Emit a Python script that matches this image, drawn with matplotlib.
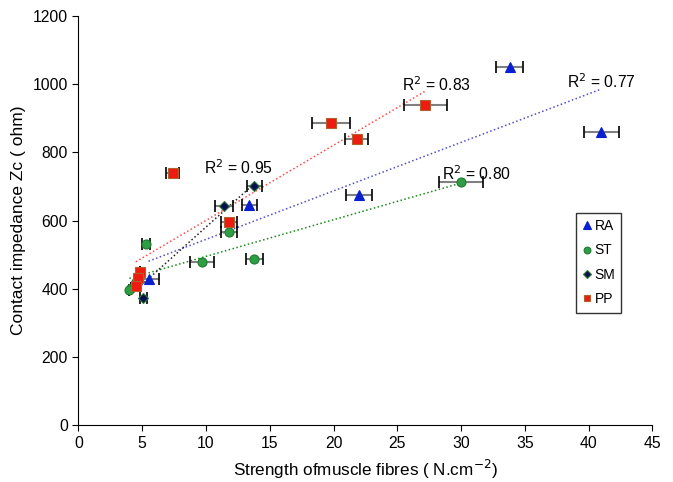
import numpy as np
import matplotlib
matplotlib.use("Agg")
import matplotlib.pyplot as plt

plt.rcParams["font.family"] = ["Liberation Sans", "DejaVu Sans"]

# strength (N.cm-2), error in strength, contact impedance Zc (ohm)
ra_x = [33.8, 41.0, 22.0, 13.4, 5.5]
ra_xerr = [1.05, 1.4, 1.0, 0.6, 0.85]
ra_y = [1050, 860, 675, 645, 428]

st_x = [30.0, 13.8, 11.8, 9.7, 5.3, 4.5, 4.1, 4.0]
st_xerr = [1.7, 0.7, 0.6, 0.95, 0.3, 0.0, 0.0, 0.0]
st_y = [712, 487, 565, 478, 532, 420, 403, 396]

sm_x = [13.8, 11.4, 5.1, 4.7]
sm_xerr = [0.6, 0.7, 0.3, 0.0]
sm_y = [700, 642, 373, 440]

pp_x = [27.2, 21.8, 19.8, 7.4, 11.8, 4.8, 4.7, 4.5]
pp_xerr = [1.7, 0.9, 1.5, 0.5, 0.6, 0.0, 0.0, 0.0]
pp_y = [940, 838, 886, 740, 595, 448, 432, 408]

r2_labels = ["R$^2$ = 0.77", "R$^2$ = 0.80", "R$^2$ = 0.95", "R$^2$ = 0.83"]
r2_pos = [(38.3, 1006), (28.5, 738), (9.85, 754), (25.4, 998)]

series = [
    ("RA", ra_x, ra_xerr, ra_y, "^", "#0a1fd0", "#0a1fd0", 7.5, "#5050c8"),
    ("ST", st_x, st_xerr, st_y, "o", "#2e9e45", "#1f7a30", 6.5, "#1a8a1a"),
    ("SM", sm_x, sm_xerr, sm_y, "D", "#06104f", "#2a7a3a", 5, "#222222"),
    ("PP", pp_x, pp_xerr, pp_y, "s", "#ee1c10", "#b06030", 6.5, "#ff4a4a"),
]

fig = plt.figure(figsize=(6.73, 4.82), dpi=100)
ax = fig.add_axes([0.1165, 0.118, 0.853, 0.849])

# trend lines first (under the markers)
for name, xs, xe, ys, mk, fc, ec, ms, lc in series:
    xs_a = np.array(xs)
    k, b = np.polyfit(xs_a, np.array(ys), 1)
    xl = np.array([xs_a.min(), xs_a.max()])
    ax.plot(xl, k * xl + b, color=lc, lw=1.1, ls=(0, (1, 1.6)), zorder=2)

for name, xs, xe, ys, mk, fc, ec, ms, lc in series:
    cont = ax.errorbar(xs, ys, xerr=xe, fmt="none", ecolor="#808080",
                       elinewidth=1.5, capsize=4, capthick=1.2, zorder=3)
    for cap in cont[1]:
        cap.set_color("black")
        cap.set_markeredgecolor("black")
    ax.plot(xs, ys, ls="none", marker=mk, ms=ms, mfc=fc, mec=ec, mew=0.8,
            label=name, zorder=4)

for txt, (tx, ty) in zip(r2_labels, r2_pos):
    ax.text(tx, ty, txt, fontsize=11.3, va="center", ha="left")

ax.set_xlim(0, 45)
ax.set_ylim(0, 1200)
ax.set_xticks(np.arange(0, 46, 5))
ax.set_yticks(np.arange(0, 1201, 200))
ax.spines["top"].set_visible(False)
ax.spines["right"].set_visible(False)
ax.tick_params(direction="out", length=4, labelsize=11.3)
ax.set_xlabel("Strength ofmuscle fibres ( N.cm$^{-2}$)", fontsize=12.3, labelpad=5)
ax.set_ylabel("Contact impedance Zc ( ohm)", fontsize=12.5, labelpad=5)

leg = ax.legend(loc="center", bbox_to_anchor=(0.906, 0.397), fontsize=10,
                frameon=True, fancybox=False, edgecolor="black",
                handletextpad=0.2, handlelength=0.7, borderpad=0.45,
                borderaxespad=0, labelspacing=0.75, markerscale=0.75)
leg.get_frame().set_linewidth(1.0)

fig.savefig("out.png", dpi=100)
